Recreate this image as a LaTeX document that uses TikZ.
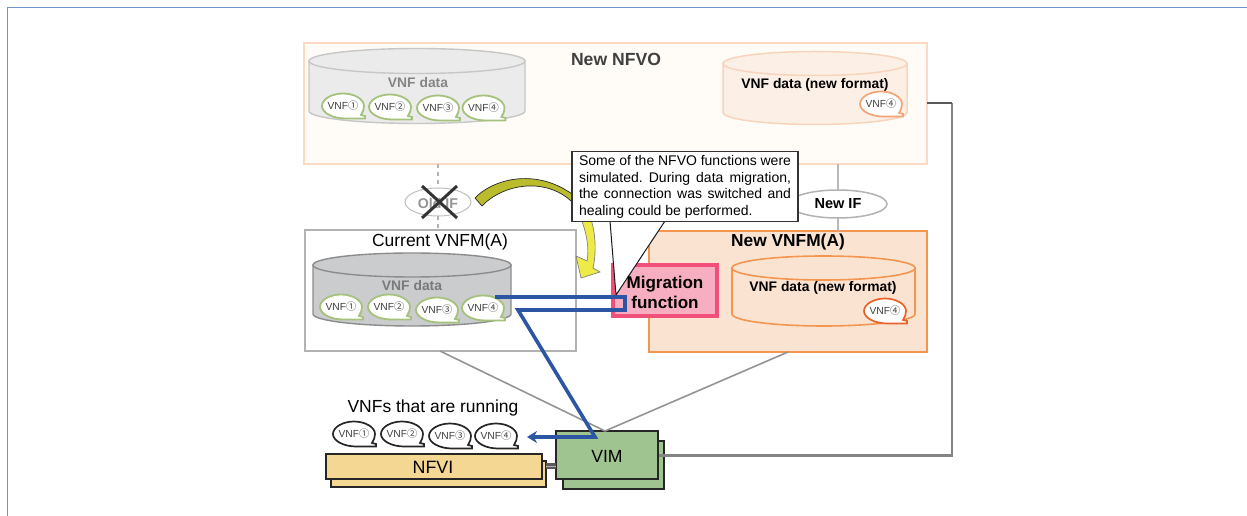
\documentclass[tikz,border=0pt]{standalone}
\usepackage{fontspec}
\setmainfont{Liberation Sans}
\newfontfamily\cjkf{Noto Sans CJK JP}
\usetikzlibrary{shapes.geometric,arrows.meta,calc}
\def\px{0.75pt}
\newcommand{\circd}[1]{{\cjkf\char\numexpr"2460+#1-1\relax}}
% bubble: name, x, y, digit, style
\newcommand{\vnfb}[5]{%
  \begin{scope}[shift={(#2,#3)}]
    \path[#5] (2,12.5) .. controls (-10,12.5) and (-21,7) .. (-21,0)
      .. controls (-21,-7) and (-11,-12.5) .. (0,-12.5)
      .. controls (11,-12.5) and (21,-7) .. (21,0)
      .. controls (21,3) and (20,6) .. (18,9) -- (22,10) -- (22,12.5) -- cycle;
    \node[bubtext] (#1) at (0,0) {VNF\circd{#4}};
  \end{scope}}
% cylinder: name, cx, rx, ytop, ybot, ry, style
\newcommand{\cylnd}[7]{%
  \path[#7] ({#2-#3},#4) -- ({#2-#3},#5)
    .. controls ({#2-#3},{#5+0.55*#6}) and ({#2-0.55*#3},{#5+#6}) .. (#2,{#5+#6})
    .. controls ({#2+0.55*#3},{#5+#6}) and ({#2+#3},{#5+0.55*#6}) .. ({#2+#3},#5)
    -- ({#2+#3},#4) -- cycle;
  \node[ellipse,inner sep=0pt,outer sep=0pt,minimum width=2*#3*\px,minimum height=2*#6*\px,#7] (#1) at (#2,#4) {};}
\definecolor{blueln}{HTML}{2C55A4}
\definecolor{frameln}{HTML}{6F96C8}
\definecolor{greenb}{HTML}{A5C27C}
\tikzset{
  boxn/.style={rectangle,inner sep=0pt,outer sep=0pt},
  bubtext/.style={inner sep=0pt,font=\fontsize{7.7}{9}\selectfont,text=black!75},
  bubgreen/.style={draw=greenb,line width=1.8*\px,fill=white},
  bubdark/.style={draw=black!85,line width=1.7*\px,fill=white},
  glabel/.style={inner sep=0pt,font=\bfseries\fontsize{10.4}{12}\selectfont},
  ttl/.style={inner sep=0pt,font=\fontsize{13.1}{15}\selectfont},
  link/.style={draw=black!42,line width=1.6*\px},
  bluepath/.style={draw=blueln,line width=3.6*\px},
  stackb/.style={boxn,draw=black!85,line width=1.6*\px},
}
\begin{document}
\begin{tikzpicture}[x=\px,y=-\px]
\useasboundingbox (0,0) rectangle (1247,516);
\fill[white] (0,0) rectangle (1247,516);
% page frame
\coordinate (fa) at (7.5,516); \coordinate (fb) at (7.5,7.5); \coordinate (fc) at (1247,7.5);
\draw[frameln,line width=1.4*\px] (fa) -- (fb) -- (fc);

% New NFVO
\node[boxn,draw={rgb,255:red,251;green,217;blue,195},line width=2*\px,fill={rgb,255:red,255;green,252;blue,248},minimum width=623*\px,minimum height=121*\px] (nfvo) at (615.5,103.5) {};
\node[ttl,font=\bfseries\fontsize{13.2}{15}\selectfont,text=black!75] (nfvot) at (616,59) {New NFVO};
\cylnd{oldcyl}{417}{108}{61}{111}{12.5}{draw=black!22,line width=1.4*\px,fill={rgb,255:red,235;green,235;blue,236}}
\node[glabel,text=black!48] (oldcylt) at (418,83) {VNF data};
\vnfb{a1}{343}{106}{1}{bubgreen}
\vnfb{a2}{390}{107}{2}{bubgreen}
\vnfb{a3}{438}{108}{3}{bubgreen}
\vnfb{a4}{483.5}{108}{4}{bubgreen}
\cylnd{newcyl}{815}{92}{63.5}{112.5}{12}{draw={rgb,255:red,248;green,212;blue,188},line width=1.5*\px,fill={rgb,255:red,252;green,240;blue,230}}
\node[glabel] (newcylt) at (815,85) {VNF data (new format)};
\vnfb{b4}{881}{104}{4}{draw={rgb,255:red,244;green,165;blue,120},line width=1.7*\px,fill=white}

% Current VNFM (A) and New VNFM (A)
\node[boxn,draw=black!30,line width=2*\px,fill=white,minimum width=271*\px,minimum height=121*\px] (curr) at (440.5,290.5) {};
\node[boxn,draw={rgb,255:red,244;green,150;blue,79},line width=2*\px,fill={rgb,255:red,251;green,227;blue,210},minimum width=278*\px,minimum height=121*\px] (newv) at (788,291.5) {};

% old and new interfaces
\node[ellipse,draw=black!25,line width=1*\px,fill=white,inner sep=0pt,outer sep=0pt,minimum width=66*\px,minimum height=28*\px] (oldif) at (438,202) {};
\draw[black!30,dashed,line width=1.2*\px] (oldif.north |- nfvo.south) -- (oldif.north);
\draw[black!30,dashed,line width=1.2*\px] (oldif.south) -- (oldif.south |- curr.north);
\node[inner sep=0pt,font=\bfseries\fontsize{10.6}{12}\selectfont,text=black!42] (oldift) at (438,203) {Old IF};
\coordinate (xa) at (422,186); \coordinate (xb) at (457,218); \coordinate (xc) at (457,186); \coordinate (xd) at (422,218);
\draw[black!80,line width=3*\px] (xa) -- (xb);
\draw[black!80,line width=3*\px] (xc) -- (xd);
\node[ellipse,draw=black!30,line width=1.5*\px,fill=white,inner sep=0pt,outer sep=0pt,minimum width=98*\px,minimum height=28*\px] (newif) at (838,204) {};
\draw[black!28,line width=1.5*\px] (newif.north |- nfvo.south) -- (newif.north);
\draw[black!28,line width=1.5*\px] (newif.south) -- (newif.south |- newv.north);
\node[inner sep=0pt,font=\bfseries\fontsize{10.9}{13}\selectfont] (newift) at (838,204) {New IF};

% contents of Current VNFM
\node[ttl] (currt) at (440,242) {Current VNFM(A)};
\cylnd{ccyl}{412}{99}{265}{314}{12}{draw=black!45,line width=1.4*\px,fill={rgb,255:red,203;green,204;blue,206}}
\node[glabel,text=black!52] (ccylt) at (412,286) {VNF data};
\vnfb{c1}{341}{307}{1}{bubgreen}
\vnfb{c2}{389}{307}{2}{bubgreen}
\vnfb{c3}{437}{310}{3}{bubgreen}
\vnfb{c4}{483}{308}{4}{bubgreen}

% contents of New VNFM
\node[ttl,font=\bfseries\fontsize{13}{15}\selectfont] (newvt) at (788,242) {New VNFM(A)};
\cylnd{ncyl}{823.5}{91.5}{268}{314}{12}{draw={rgb,255:red,244;green,150;blue,79},line width=1.6*\px,fill={rgb,255:red,251;green,227;blue,210}}
\node[glabel] (ncylt) at (823,288) {VNF data (new format)};
\vnfb{d4}{885}{311}{4}{draw={rgb,255:red,232;green,98;blue,42},line width=1.7*\px,fill=white}

% Migration box
\node[boxn,draw={rgb,255:red,240;green,80;blue,122},line width=3.2*\px,fill={rgb,255:red,247;green,174;blue,192},minimum width=104*\px,minimum height=51*\px] (mig) at (665,290.5) {};

% yellow curved arrow
\fill[draw=black!85,line width=.7*\px,fill={rgb,255:red,186;green,188;blue,46}] (475,198) .. controls (495,177) and (545,165) .. (585,205) -- (575,205) .. controls (550,177) and (505,182) .. (482,206) -- cycle;
\fill[draw=black!50,line width=.7*\px,fill={rgb,255:red,238;green,234;blue,70}] (585,205) .. controls (596,225) and (597,250) .. (593,268) -- (600,272) -- (581,278) -- (576,256) -- (587,261) .. controls (590,245) and (585,225) .. (575,205) -- cycle;

% callout
\coordinate (wa) at (610,221); \coordinate (wb) at (616,295); \coordinate (wc) at (665,221);
\fill[white] (wa) -- (wb) -- (wc) -- cycle;
\draw[black!90,line width=1*\px] (wa) -- (wb) -- (wc);
\node[boxn,draw=black!80,line width=1.5*\px,fill=white,minimum width=226*\px,minimum height=70*\px] (note) at (685,186.5) {};
\node[inner sep=0pt,text width=212*\px,align=justify,font=\fontsize{10.5}{12.4}\selectfont] (notet) at (685,187) {\frenchspacing Some of the NFVO functions were\linebreak simulated. During data migration,\linebreak the connection was switched and\linebreak healing could be performed.};
\node[inner sep=0pt,align=center,font=\bfseries\fontsize{12.8}{15}\selectfont] (migt) at (665,292) {Migration\\function};

% infrastructure
\node[stackb,fill={rgb,255:red,160;green,196;blue,144},minimum width=101*\px,minimum height=48*\px] (vimb) at (613.5,465) {};
\node[stackb,fill={rgb,255:red,245;green,215;blue,148},minimum width=215*\px,minimum height=26*\px] (nfvib) at (438.5,474) {};
\node[stackb,fill={rgb,255:red,245;green,215;blue,148},minimum width=216*\px,minimum height=25*\px] (nfvi) at (434,466.5) {};
\coordinate (ra) at (952,455.5); \coordinate (rb) at (952,103);
\coordinate (vs) at (607,455.5);
\draw[black!48,line width=2.3*\px] (vs) -- (ra) -- (rb);
\draw[black!65,line width=1.5*\px] (rb) -- (rb -| nfvo.east);
\node[stackb,fill={rgb,255:red,160;green,196;blue,144},minimum width=102*\px,minimum height=48*\px] (vim) at (607,455) {};
\node[inner sep=0pt,font=\fontsize{13.2}{15}\selectfont] (vimt) at (607,456) {VIM};
\node[inner sep=0pt,font=\fontsize{13.4}{15}\selectfont] (nfvit) at (433,467) {NFVI};
\draw[black!65,line width=3*\px,double=black!30,double distance=.6*\px] (nfvib.east |- 0,466) -- (vim.west |- 0,466);
\coordinate (vt) at (605,431);
\draw[link] (440,351) -- (vt);
\draw[link] (788,352) -- (vt);

% running VNFs
\node[ttl] (runt) at (433,408) {VNFs that are running};
\vnfb{e1}{354}{434}{1}{bubdark}
\vnfb{e2}{402}{434}{2}{bubdark}
\vnfb{e3}{450}{436}{3}{bubdark}
\vnfb{e4}{496}{436}{4}{bubdark}

% blue path
\coordinate (p1) at (495,297); \coordinate (p2) at (625,297); \coordinate (p3) at (625,310);
\coordinate (p4) at (518,310); \coordinate (p5) at (595,437); \coordinate (p6) at (527,437);
\draw[bluepath,-{Stealth[length=10*\px,width=12*\px]},line join=miter] (p1) -- (p2) -- (p3) -- (p4) -- (p5) -- (p6);
\end{tikzpicture}
\end{document}
